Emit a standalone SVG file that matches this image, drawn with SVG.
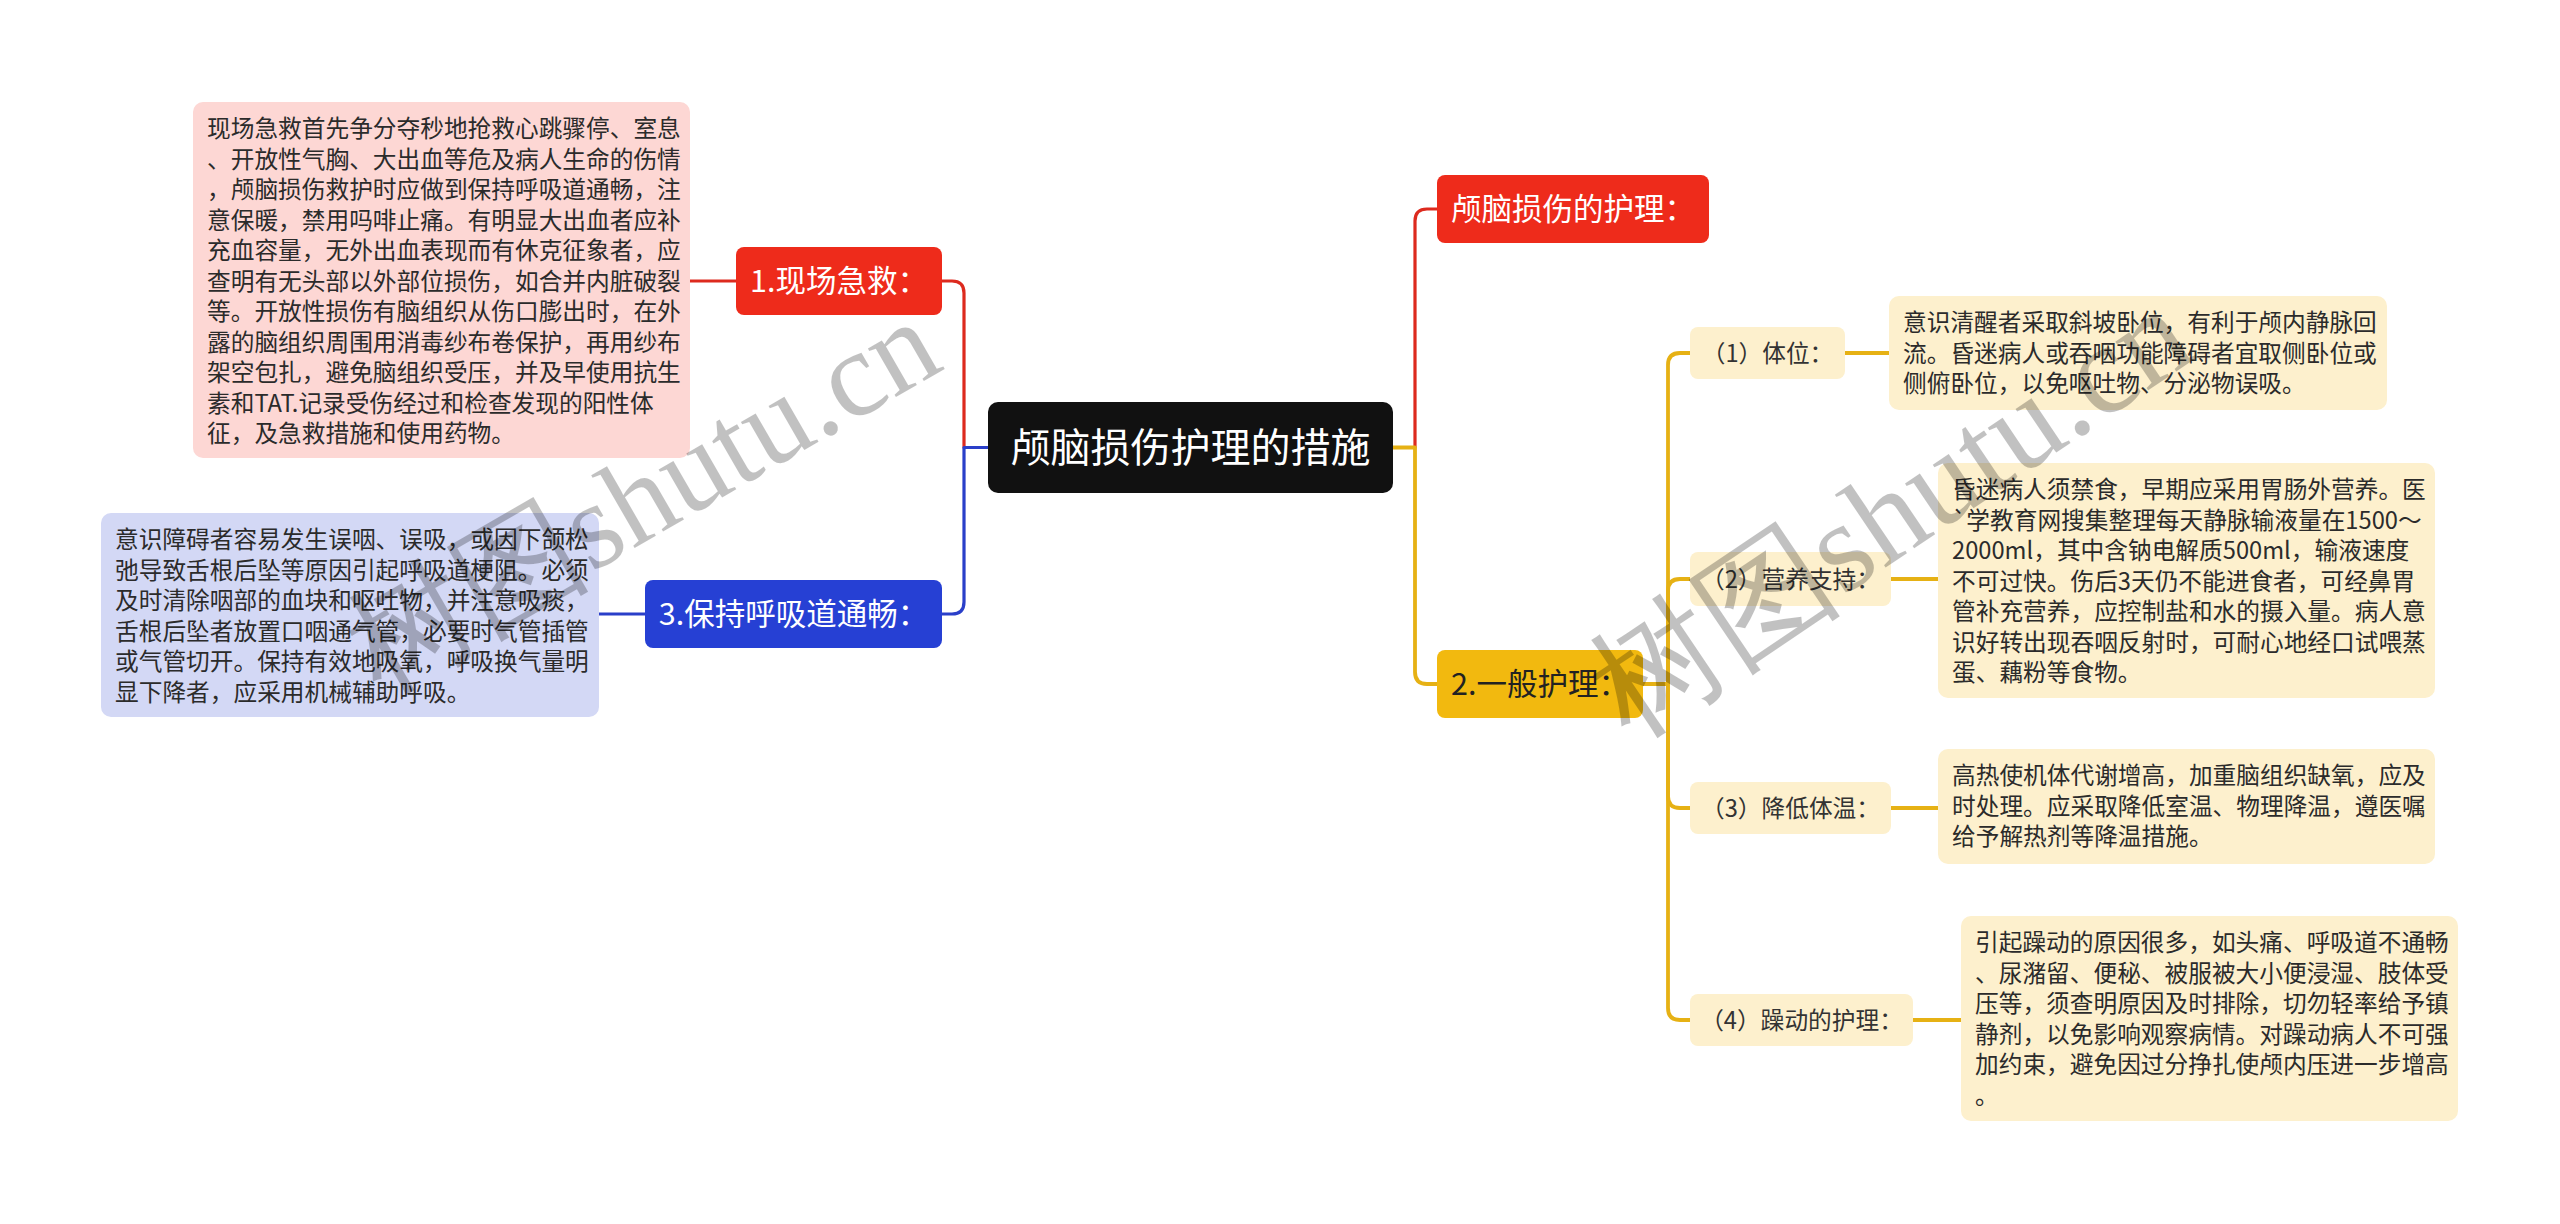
<svg xmlns="http://www.w3.org/2000/svg" width="2560" height="1224" viewBox="0 0 2560 1224">
<style>
.t{font-family:"Noto Sans CJK SC","Noto Sans",sans-serif}
.body{font-size:23.7px;fill:#2b2b2b}
.node{font-size:30.5px;fill:#fff;text-anchor:middle}
.sub{font-size:23.7px;fill:#333;text-anchor:middle}
.ln{fill:none;stroke-width:3.2;stroke-linejoin:round}
.r{stroke:#dd2a1e}.b{stroke:#2a3fc9}.g{stroke:#e6b114;stroke-width:3.8}
.wm{font-family:"Liberation Serif","DejaVu Serif",serif;fill:#000;opacity:0.24}
</style>
<rect width="2560" height="1224" fill="#fff"/>
<g id="connectors">
<path class="ln r" d="M988,447.5 H964 V293 Q964,281 952,281 H942"/>
<path class="ln b" d="M988,447.5 H964 V602 Q964,614 952,614 H942"/>
<path class="ln r" d="M690,281 H736"/>
<path class="ln b" d="M599,614 H645"/>
<path class="ln r" d="M1393,447.5 H1415 V221 Q1415,209 1427,209 H1437"/>
<path class="ln g" d="M1393,447.5 H1415 V672 Q1415,684 1427,684 H1437"/>
<path class="ln g" d="M1643,684 H1668 V365 Q1668,353 1680,353 H1690"/>
<path class="ln g" d="M1643,684 H1668 V591 Q1668,579 1680,579 H1690"/>
<path class="ln g" d="M1643,684 H1668 V796 Q1668,808 1680,808 H1690"/>
<path class="ln g" d="M1643,684 H1668 V1008 Q1668,1020 1680,1020 H1690"/>
<path class="ln g" d="M1845,353 H1889"/>
<path class="ln g" d="M1891,579 H1938"/>
<path class="ln g" d="M1891,808 H1938"/>
<path class="ln g" d="M1913,1020 H1961"/>
</g>
<g id="root">
<rect x="988" y="402" width="405" height="91" rx="10" fill="#111"/>
<text class="t" x="1190.5" y="462" font-size="40" fill="#fff" text-anchor="middle">颅脑损伤护理的措施</text>
</g>
<g id="n1">
<rect x="736" y="247" width="206" height="68" rx="8" fill="#ee2b1b"/>
<text class="t node" x="839" y="292">1.现场急救：</text>
</g>
<g id="n1-body">
<rect x="193" y="102" width="497" height="356" rx="10" fill="#fdd7d4"/>
<text class="t body">
<tspan x="207" y="137">现场急救首先争分夺秒地抢救心跳骤停、室息</tspan>
<tspan x="207" y="167.5">、开放性气胸、大出血等危及病人生命的伤情</tspan>
<tspan x="207" y="198">，颅脑损伤救护时应做到保持呼吸道通畅，注</tspan>
<tspan x="207" y="228.5">意保暖，禁用吗啡止痛。有明显大出血者应补</tspan>
<tspan x="207" y="259">充血容量，无外出血表现而有休克征象者，应</tspan>
<tspan x="207" y="289.5">查明有无头部以外部位损伤，如合并内脏破裂</tspan>
<tspan x="207" y="320">等。开放性损伤有脑组织从伤口膨出时，在外</tspan>
<tspan x="207" y="350.5">露的脑组织周围用消毒纱布卷保护，再用纱布</tspan>
<tspan x="207" y="381">架空包扎，避免脑组织受压，并及早使用抗生</tspan>
<tspan x="207" y="411.5">素和TAT.记录受伤经过和检查发现的阳性体</tspan>
<tspan x="207" y="442">征，及急救措施和使用药物。</tspan>
</text>
</g>
<g id="n3">
<rect x="645" y="580" width="297" height="68" rx="8" fill="#2640d4"/>
<text class="t node" x="793.5" y="625">3.保持呼吸道通畅：</text>
</g>
<g id="n3-body">
<rect x="101" y="513" width="498" height="204" rx="10" fill="#d3d8f5"/>
<text class="t body">
<tspan x="115" y="548">意识障碍者容易发生误咽、误吸，或因下颌松</tspan>
<tspan x="115" y="578.5">弛导致舌根后坠等原因引起呼吸道梗阻。必须</tspan>
<tspan x="115" y="609">及时清除咽部的血块和呕吐物，并注意吸痰，</tspan>
<tspan x="115" y="639.5">舌根后坠者放置口咽通气管，必要时气管插管</tspan>
<tspan x="115" y="670">或气管切开。保持有效地吸氧，呼吸换气量明</tspan>
<tspan x="115" y="700.5">显下降者，应采用机械辅助呼吸。</tspan>
</text>
</g>
<g id="nR">
<rect x="1437" y="175" width="272" height="68" rx="8" fill="#ee2b1b"/>
<text class="t node" x="1573" y="220">颅脑损伤的护理：</text>
</g>
<g id="n2">
<rect x="1437" y="650" width="206" height="68" rx="8" fill="#f2b90f"/>
<text class="t node" x="1540" y="695" style="fill:#222">2.一般护理：</text>
</g>
<g id="s1">
<rect x="1690" y="327" width="155" height="52" rx="8" fill="#fdf0cd"/>
<text class="t sub" x="1767.5" y="361.5">（1）体位：</text>
</g>
<g id="s1-body">
<rect x="1889" y="296" width="498" height="114" rx="10" fill="#fdf0cd"/>
<text class="t body">
<tspan x="1903" y="331">意识清醒者采取斜坡卧位，有利于颅内静脉回</tspan>
<tspan x="1903" y="361.5">流。昏迷病人或吞咽功能障碍者宜取侧卧位或</tspan>
<tspan x="1903" y="392">侧俯卧位，以免呕吐物、分泌物误吸。</tspan>
</text>
</g>
<g id="s2">
<rect x="1690" y="552" width="201" height="54" rx="8" fill="#fdf0cd"/>
<text class="t sub" x="1790.5" y="587.5">（2）营养支持：</text>
</g>
<g id="s2-body">
<rect x="1938" y="463" width="497" height="235" rx="10" fill="#fdf0cd"/>
<text class="t body">
<tspan x="1952" y="498">昏迷病人须禁食，早期应采用胃肠外营养。医</tspan>
<tspan x="1952" y="528.5">`学教育网搜集整理每天静脉输液量在1500～</tspan>
<tspan x="1952" y="559">2000ml，其中含钠电解质500ml，输液速度</tspan>
<tspan x="1952" y="589.5">不可过快。伤后3天仍不能进食者，可经鼻胃</tspan>
<tspan x="1952" y="620">管补充营养，应控制盐和水的摄入量。病人意</tspan>
<tspan x="1952" y="650.5">识好转出现吞咽反射时，可耐心地经口试喂蒸</tspan>
<tspan x="1952" y="681">蛋、藕粉等食物。</tspan>
</text>
</g>
<g id="s3">
<rect x="1690" y="782" width="201" height="52" rx="8" fill="#fdf0cd"/>
<text class="t sub" x="1790.5" y="816.5">（3）降低体温：</text>
</g>
<g id="s3-body">
<rect x="1938" y="749" width="497" height="115" rx="10" fill="#fdf0cd"/>
<text class="t body">
<tspan x="1952" y="784">高热使机体代谢增高，加重脑组织缺氧，应及</tspan>
<tspan x="1952" y="814.5">时处理。应采取降低室温、物理降温，遵医嘱</tspan>
<tspan x="1952" y="845">给予解热剂等降温措施。</tspan>
</text>
</g>
<g id="s4">
<rect x="1690" y="994" width="223" height="52" rx="8" fill="#fdf0cd"/>
<text class="t sub" x="1801.5" y="1028.5">（4）躁动的护理：</text>
</g>
<g id="s4-body">
<rect x="1961" y="916" width="497" height="205" rx="10" fill="#fdf0cd"/>
<text class="t body">
<tspan x="1975" y="951">引起躁动的原因很多，如头痛、呼吸道不通畅</tspan>
<tspan x="1975" y="981.5">、尿潴留、便秘、被服被大小便浸湿、肢体受</tspan>
<tspan x="1975" y="1012">压等，须查明原因及时排除，切勿轻率给予镇</tspan>
<tspan x="1975" y="1042.5">静剂，以免影响观察病情。对躁动病人不可强</tspan>
<tspan x="1975" y="1073">加约束，避免因过分挣扎使颅内压进一步增高</tspan>
<tspan x="1975" y="1103.5">。</tspan>
</text>
</g>
<g id="watermark">
<text class="wm" font-size="122" transform="translate(380,695) rotate(-30)">树图shutu.cn</text>
<text class="wm" font-size="128" transform="translate(1630,740) rotate(-34)">树图shutu.cn</text>
</g>
</svg>
